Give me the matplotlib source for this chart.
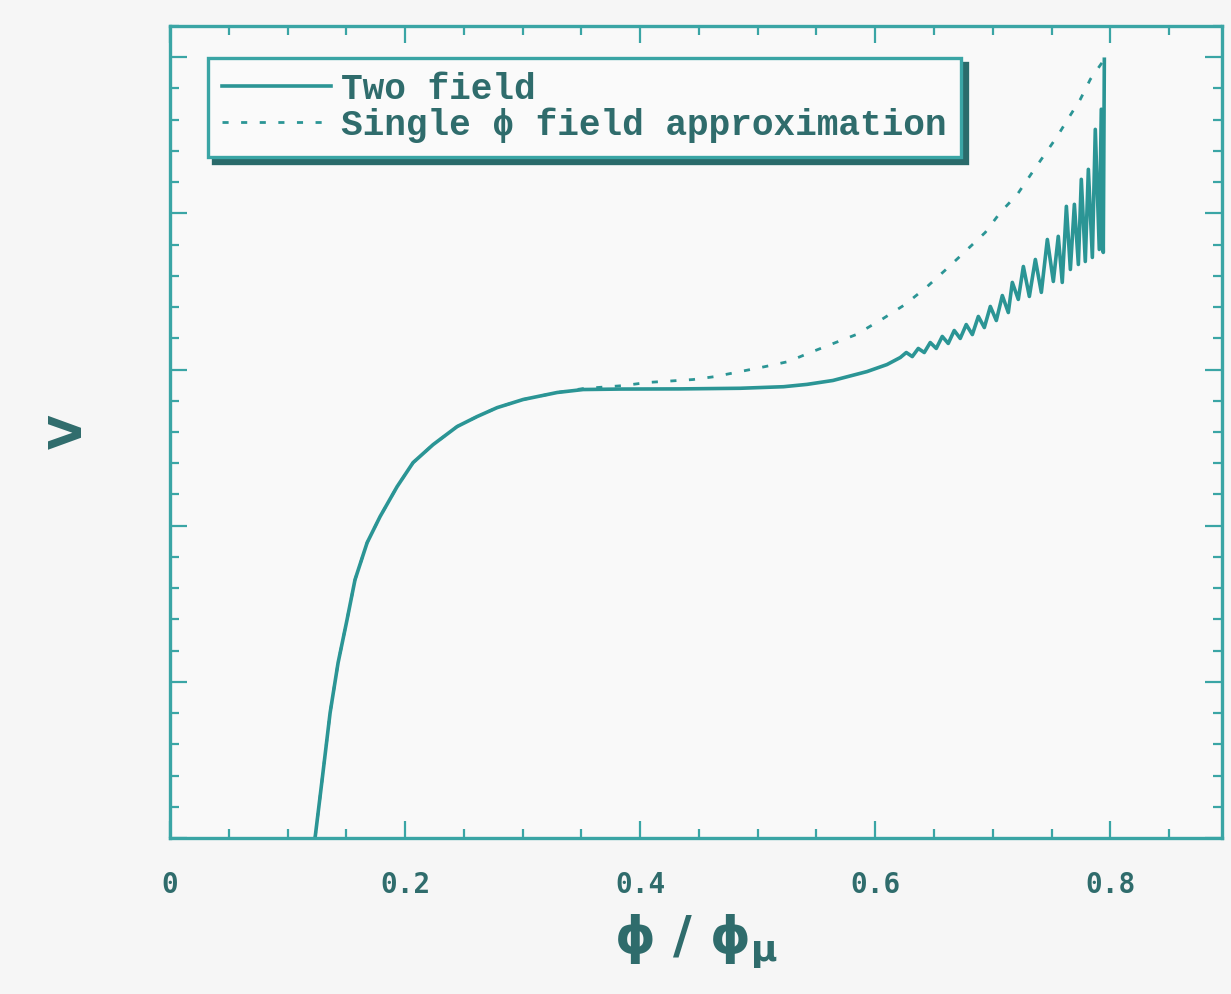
import matplotlib
matplotlib.use("Agg")
import matplotlib.pyplot as plt
from matplotlib.ticker import MultipleLocator, FixedLocator

# values (x in phi/phi_mu, y in arbitrary V units)
two_field_x = [0.1234, 0.1294, 0.1362, 0.1430, 0.1506, 0.1574, 0.1677, 0.1787, 0.1932, 0.2068,
               0.2238, 0.2443, 0.2613, 0.2783, 0.3004, 0.3294, 0.3515, 0.383, 0.434, 0.485,
               0.522, 0.542, 0.564, 0.593, 0.610,
               0.6213, 0.6264, 0.6315, 0.6366, 0.6417, 0.6468, 0.6519, 0.6570, 0.6621, 0.6672,
               0.6723, 0.6774, 0.6826, 0.6877, 0.6928, 0.6979, 0.7030, 0.7081, 0.7132, 0.7166,
               0.7217, 0.7260, 0.7311, 0.7362, 0.7413, 0.7464, 0.7515, 0.7557, 0.7591, 0.7626,
               0.7660, 0.7694, 0.7728, 0.7753, 0.7787, 0.7813, 0.7847, 0.7872, 0.7906, 0.7923,
               0.7940, 0.7949]
two_field_y = [0.0, 0.372, 0.801, 1.122, 1.397, 1.654, 1.891, 2.058, 2.250, 2.404,
               2.519, 2.635, 2.699, 2.756, 2.808, 2.853, 2.872, 2.875, 2.876, 2.880,
               2.890, 2.905, 2.930, 2.987, 3.032,
               3.077, 3.109, 3.083, 3.135, 3.109, 3.173, 3.135, 3.212, 3.167, 3.250,
               3.199, 3.288, 3.224, 3.340, 3.269, 3.404, 3.314, 3.474, 3.365, 3.558,
               3.449, 3.660, 3.468, 3.705, 3.494, 3.833, 3.564, 3.853, 3.558, 4.045,
               3.641, 4.058, 3.673, 4.218, 3.692, 4.282, 3.718, 4.538, 3.769, 4.667,
               3.750, 4.987]

single_x = [0.1234, 0.1294, 0.1362, 0.1430, 0.1506, 0.1574, 0.1677, 0.1787, 0.1932, 0.2068,
            0.2238, 0.2443, 0.2613, 0.2783, 0.3004, 0.3294, 0.3515, 0.3855, 0.406, 0.445,
            0.4638, 0.4851, 0.5064, 0.526, 0.5447, 0.5643, 0.5838, 0.6068, 0.6255, 0.6443,
            0.6621, 0.6783, 0.6936, 0.7064, 0.7209, 0.7319, 0.7430, 0.7549, 0.7643, 0.7745,
            0.7830, 0.7932, 0.7949]
single_y = [0.0, 0.372, 0.801, 1.122, 1.397, 1.654, 1.891, 2.058, 2.250, 2.404,
            2.519, 2.635, 2.699, 2.756, 2.808, 2.853, 2.878, 2.897, 2.917, 2.936,
            2.955, 2.987, 3.019, 3.051, 3.109, 3.167, 3.224, 3.327, 3.417, 3.532,
            3.654, 3.769, 3.878, 4.006, 4.122, 4.244, 4.365, 4.494, 4.609, 4.731,
            4.859, 4.968, 5.0]

x_ticks = [0.0, 0.2, 0.4, 0.6, 0.8]
x_tick_labels = ["0", "0.2", "0.4", "0.6", "0.8"]

line_col = "#2b9595"
frame_col = "#3aa5a5"
text_col = "#2f6c6c"

plt.rcParams['mathtext.fontset'] = 'custom'
plt.rcParams['mathtext.it'] = 'DejaVu Sans:bold'
plt.rcParams['mathtext.rm'] = 'DejaVu Sans:bold'
plt.rcParams['mathtext.bf'] = 'DejaVu Sans:bold'

fig = plt.figure(figsize=(12.31, 9.94), dpi=100, facecolor="#f6f6f6")
ax = fig.add_axes([170 / 1231, 1 - 838 / 994, 1052 / 1231, 812 / 994])
ax.set_facecolor("#f9f9f9")

ax.plot(two_field_x, two_field_y, color=line_col, lw=2.6, label="Two field")
ax.plot(single_x, single_y, color=line_col, lw=2.0, linestyle=(0, (2.2, 4.5)),
        label="Single \u03d5 field approximation")

ax.set_xlim(0, 0.895)
ax.set_ylim(0, 5.2)

ax.xaxis.set_major_locator(FixedLocator(x_ticks))
ax.xaxis.set_minor_locator(MultipleLocator(0.05))
ax.set_xticklabels(x_tick_labels, family="DejaVu Sans Mono", fontweight="bold",
                   fontsize=20, color=text_col)
ax.yaxis.set_major_locator(MultipleLocator(1))
ax.yaxis.set_minor_locator(MultipleLocator(0.2))
ax.set_yticklabels([])

ax.tick_params(which="both", direction="in", top=True, right=True, color=frame_col, width=1.6)
ax.tick_params(which="major", length=12, pad=24)
ax.tick_params(which="minor", length=6.5)
for s in ax.spines.values():
    s.set_color(frame_col)
    s.set_linewidth(2.4)

ax.set_xlabel(r"$\phi\ /\ \phi_{\mu}$", fontsize=37, color=text_col)
ax.xaxis.set_label_coords(0.5, -0.092)
ax.set_ylabel("V", fontsize=32, fontweight="bold", color=text_col)
ax.yaxis.set_label_coords(-0.075, 0.5)

leg = ax.legend(loc="upper left", bbox_to_anchor=(0.036, 0.961), borderaxespad=0,
                prop={"family": ["Liberation Mono", "DejaVu Sans"], "weight": "bold", "size": 26},
                handlelength=3.0, handletextpad=0.3, labelspacing=0.0, borderpad=0.4,
                fancybox=False, framealpha=1,
                shadow={"ox": 4, "oy": -4, "color": "#2a6b6b", "alpha": 1})
leg.get_frame().set_edgecolor(frame_col)
leg.get_frame().set_linewidth(2.4)
leg.get_frame().set_facecolor("#fafafa")
for t in leg.get_texts():
    t.set_color(text_col)

fig.savefig("out.png", dpi=100, facecolor=fig.get_facecolor())
